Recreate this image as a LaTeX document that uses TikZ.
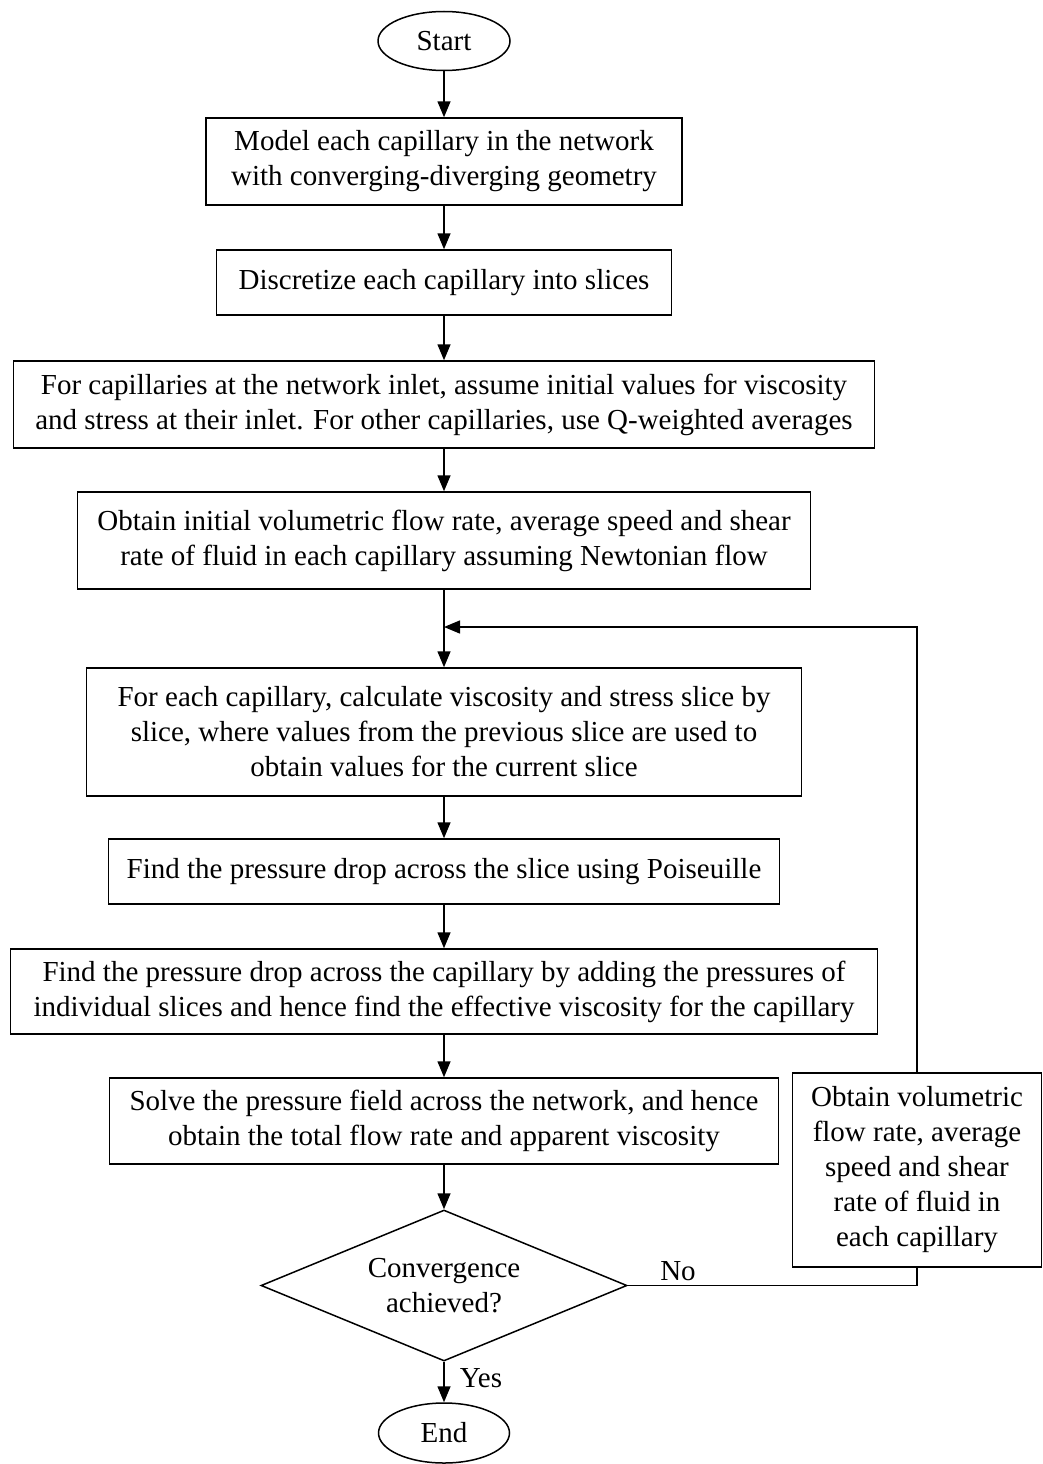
\documentclass[tikz,border=0pt]{standalone}
\usepackage{fontspec}
\setmainfont{Liberation Serif}
\usetikzlibrary{shapes.geometric,arrows.meta}
\begin{document}
\begin{tikzpicture}[x=1pt,y=-1pt,
  every node/.style={font=\fontsize{29}{35}\selectfont, inner sep=0pt, align=center},
  procbox/.style={draw, line width=1.5pt, rectangle},
  term/.style={draw, line width=1.5pt, ellipse},
  decision/.style={draw, line width=1.5pt, diamond, aspect=2.42},
  conn/.style={line width=1.5pt, -{Triangle[length=16pt,width=13pt]}},
  plain/.style={line width=1.5pt}]
\useasboundingbox (0,0) rectangle (1043,1464);
\node[term, minimum width=132pt, minimum height=59pt] (start) at (444,41) {Start};
\node[procbox, minimum width=476pt, minimum height=87pt] (b1) at (444,161.5)
  {Model each capillary in the network\\with converging-diverging geometry};
\node[procbox, minimum width=455pt, minimum height=65pt] (b2) at (444,282.5)
  {Discretize each capillary into slices};
\node[procbox, minimum width=861pt, minimum height=87pt] (b3) at (444,404.5)
  {For capillaries at the network inlet, assume initial values for viscosity\\and stress at their inlet. For other capillaries, use Q-weighted averages};
\node[procbox, minimum width=733pt, minimum height=97pt] (b4) at (444,540.5)
  {Obtain initial volumetric flow rate, average speed and shear\\rate of fluid in each capillary assuming Newtonian flow};
\node[procbox, minimum width=715pt, minimum height=128pt] (b5) at (444,732)
  {For each capillary, calculate viscosity and stress slice by\\slice, where values from the previous slice are used to\\obtain values for the current slice};
\node[procbox, minimum width=671pt, minimum height=65pt] (b6) at (444,871.5)
  {Find the pressure drop across the slice using Poiseuille};
\node[procbox, minimum width=867pt, minimum height=85pt] (b7) at (444,991.5)
  {Find the pressure drop across the capillary by adding the pressures of\\individual slices and hence find the effective viscosity for the capillary};
\node[procbox, minimum width=669pt, minimum height=86pt] (b8) at (444,1121)
  {Solve the pressure field across the network, and hence\\obtain the total flow rate and apparent viscosity};
\node[decision, minimum width=366pt, minimum height=151pt] (dec) at (444,1285.5)
  {Convergence\\achieved?};
\node[term, minimum width=131pt, minimum height=60pt] (end) at (444,1433) {End};
\node[procbox, minimum width=249pt, minimum height=194pt] (rb) at (917,1170)
  {Obtain volumetric\\flow rate, average\\speed and shear\\rate of fluid in\\each capillary};
\coordinate (loopin) at (444,627);
\node (no) at (678,1271) {No};
\node (yes) at (481,1378) {Yes};

\draw[conn] (start) -- (b1);
\draw[conn] (b1) -- (b2);
\draw[conn] (b2) -- (b3);
\draw[conn] (b3) -- (b4);
\draw[conn] (b4) -- (b5);
\draw[conn] (b5) -- (b6);
\draw[conn] (b6) -- (b7);
\draw[conn] (b7) -- (b8);
\draw[conn] (b8) -- (dec);
\draw[conn] (dec) -- (end);
\draw[plain] (dec.east) -| (rb.south);
\draw[conn] (rb.north) |- (loopin);
\end{tikzpicture}
\end{document}
